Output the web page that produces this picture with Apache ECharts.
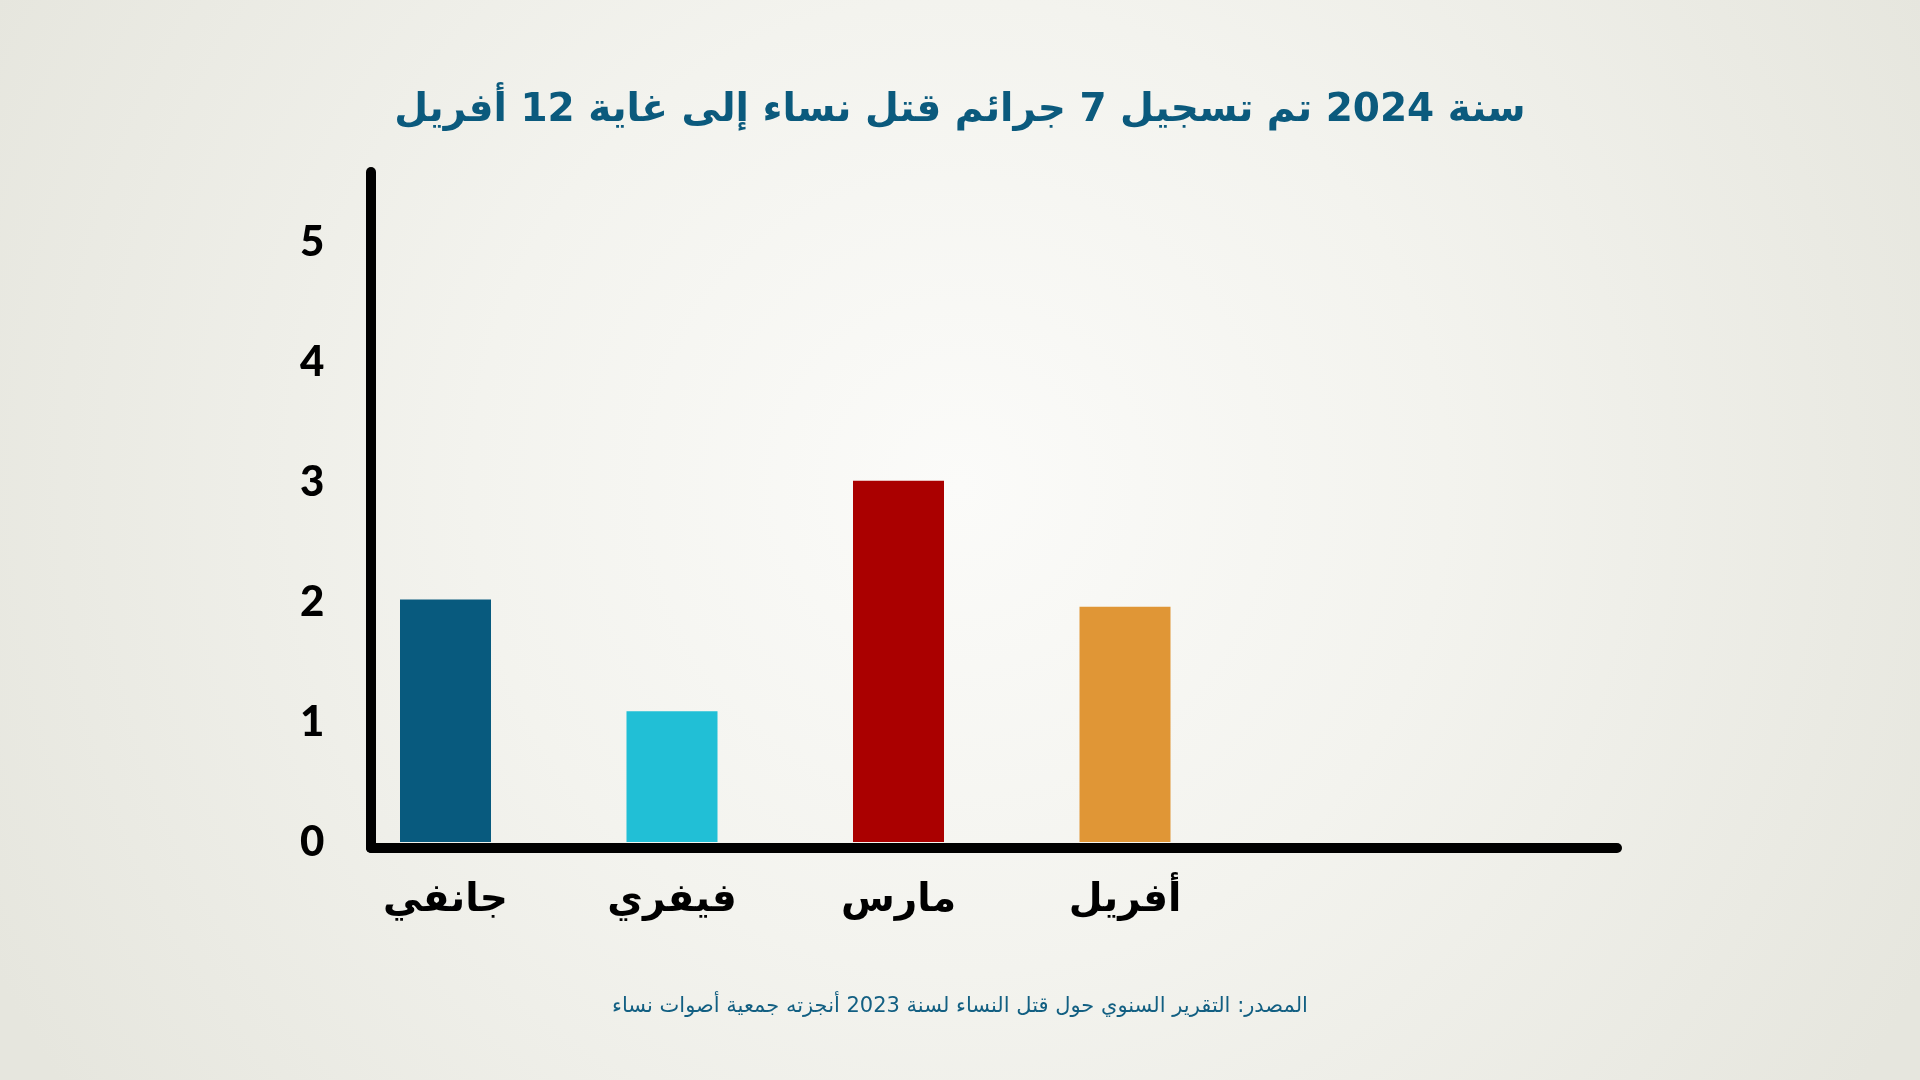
<!DOCTYPE html>
<html>
<head>
<meta charset="utf-8">
<script src="https://cdn.jsdelivr.net/npm/echarts@6/dist/echarts.min.js"></script>
<style>
html,body{margin:0;padding:0;width:1920px;height:1080px;overflow:hidden;}
#chart{width:1920px;height:1080px;}
</style>
</head>
<body>
<div id="chart"></div>
<script>
const titleText = 'سنة 2024 تم تسجيل 7 جرائم قتل نساء إلى غاية 12 أفريل';
const sourceText = 'المصدر: التقرير السنوي حول قتل النساء لسنة 2023 أنجزته جمعية أصوات نساء';
const months = ['جانفي', 'فيفري', 'مارس', 'أفريل'];
const counts = [2.02, 1.09, 3.01, 1.96];
const barColors = ['#085a7e', '#21bfd6', '#aa0000', '#e09636'];

const chart = echarts.init(document.getElementById('chart'), null, {renderer: 'canvas'});
const option = {
  backgroundColor: {
    type: 'radial', x: 0.5, y: 0.45, r: 1.0,
    colorStops: [
      {offset: 0, color: '#fbfbf9'},
      {offset: 0.45, color: '#f3f3ee'},
      {offset: 1, color: '#e6e6de'}
    ]
  },
  title: [
    {
      text: titleText, left: 'center', top: 86,
      textStyle: {fontFamily: 'DejaVu Sans', fontWeight: 'bold', fontSize: 39, color: '#0b5a7d'}
    },
    {
      text: sourceText, left: 'center', top: 991,
      textStyle: {fontFamily: 'DejaVu Sans', fontWeight: 'normal', fontSize: 21, color: '#125f82'}
    }
  ],
  grid: [
    {left: 371, top: 172, width: 1246, height: 676},
    {left: 332.25, top: 182, width: 906, height: 660}
  ],
  xAxis: [
    {
      gridIndex: 0, type: 'value', min: 0, max: 1,
      axisLine: {show: true, onZero: false, lineStyle: {color: '#000', width: 10, cap: 'round'}},
      axisTick: {show: false}, axisLabel: {show: false}, splitLine: {show: false}, z: 10
    },
    {
      gridIndex: 1, type: 'category', data: months,
      axisLine: {show: false}, axisTick: {show: false}, splitLine: {show: false},
      axisLabel: {show: true, margin: 39, fontFamily: 'DejaVu Sans', fontWeight: 'bold', fontSize: 39, color: '#000'}
    }
  ],
  yAxis: [
    {
      gridIndex: 0, type: 'value', min: 0, max: 1,
      axisLine: {show: true, onZero: false, lineStyle: {color: '#000', width: 10, cap: 'round'}},
      axisTick: {show: false}, axisLabel: {show: false}, splitLine: {show: false}, z: 10
    },
    {
      gridIndex: 1, type: 'value', min: 0, max: 5.5, interval: 1,
      axisLine: {show: false}, axisTick: {show: false}, splitLine: {show: false},
      axisLabel: {
        show: true, margin: 8, fontFamily: 'Lato', fontWeight: 900, fontSize: 42, color: '#000',
        formatter: function (v) { return Number.isInteger(v) ? String(v) : ''; }
      }
    }
  ],
  series: [
    {
      type: 'bar', xAxisIndex: 1, yAxisIndex: 1, barWidth: 91,
      data: counts.map(function (v, i) { return {value: v, itemStyle: {color: barColors[i]}}; }),
      z: 2
    }
  ]
};
chart.setOption(option);
</script>
</body>
</html>
